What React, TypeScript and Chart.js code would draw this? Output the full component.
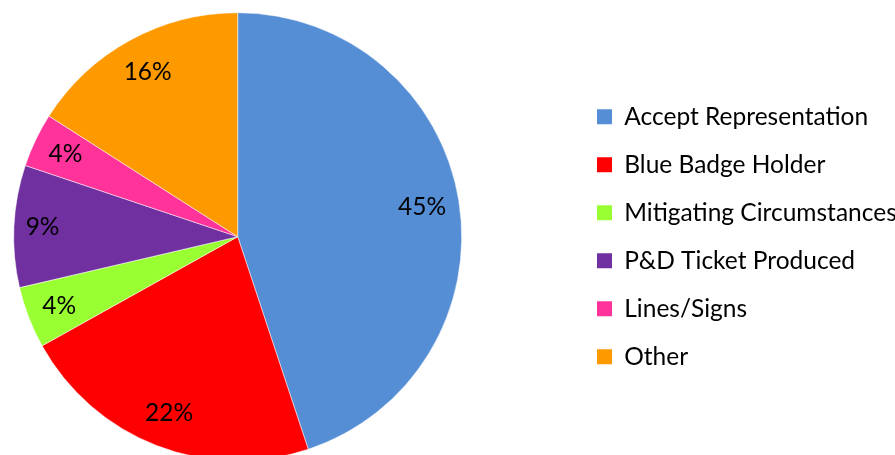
import { useEffect, useRef } from "react";
import { Chart, registerables } from "chart.js";

Chart.register(...registerables);

const categories = [
  "Accept Representation",
  "Blue Badge Holder",
  "Mitigating Circumstances",
  "P&D Ticket Produced",
  "Lines/Signs",
  "Other",
];
const values = [44.9, 22.0, 4.45, 8.8, 3.9, 15.95];
const colors = ["#558ED5", "#FF0000", "#99FF33", "#7030A0", "#FF3399", "#FF9900"];

const SHIFT = 100;
const W = 960 + SHIFT;
const H = 470;
const FONT = "Lato";
const FS = 24.5;
const CX = 237.7 + SHIFT;
const CY = 236.7;
const RADIUS = 224;
const LEG_PAD = 48 - FS;
const BOX = 15;
const BOX_LEFT = 597 + SHIFT;

const labelPlugin = {
  id: "pctLabels",
  afterDatasetsDraw(chart: any) {
    const ctx = chart.ctx as CanvasRenderingContext2D;
    const meta = chart.getDatasetMeta(0);
    const data = chart.data.datasets[0].data as number[];
    const total = data.reduce((a, b) => a + b, 0);
    ctx.save();
    ctx.font = `${FS}px ${FONT}`;
    ctx.fillStyle = "#000";
    ctx.textAlign = "center";
    ctx.textBaseline = "middle";
    meta.data.forEach((arc: any, i: number) => {
      const p = arc.getProps(["x", "y", "startAngle", "endAngle", "outerRadius"], true);
      const mid = (p.startAngle + p.endAngle) / 2;
      const text = Math.round((data[i] / total) * 100) + "%";
      const w = ctx.measureText(text).width;
      const ext = Math.abs(Math.cos(mid)) * w / 2 + Math.abs(Math.sin(mid)) * 16;
      const r = p.outerRadius - 11 - ext;
      ctx.fillText(text, p.x + Math.cos(mid) * r, p.y + Math.sin(mid) * r);
    });
    ctx.restore();
  },
};

export default function App() {
  const ref = useRef<HTMLCanvasElement | null>(null);

  useEffect(() => {
    document.body.style.margin = "0";
    document.body.style.overflow = "hidden";
    document.documentElement.style.overflow = "hidden";
    const canvas = ref.current;
    if (!canvas) return;

    const mctx = document.createElement("canvas").getContext("2d")!;
    mctx.font = `${FS}px ${FONT}`;
    const maxText = Math.max(...categories.map((c) => mctx.measureText(c).width));
    const legendWidth = LEG_PAD + BOX + FS / 2 + maxText + 10;
    const legendLeft = BOX_LEFT - LEG_PAD;
    const padLeft = 2 * CX - legendLeft;
    const padRight = W - legendLeft - legendWidth;
    const padTop = 12;
    const padBottom = H - (2 * CY - padTop);

    const chart = new Chart(canvas, {
      type: "pie",
      data: {
        labels: categories,
        datasets: [
          {
            data: values,
            backgroundColor: colors,
            borderColor: "#ffffff",
            borderWidth: 0.5,
            hoverOffset: 0,
            clip: false as any,
          },
        ],
      },
      options: {
        responsive: false,
        animation: false,
        events: [],
        radius: RADIUS,
        layout: {
          padding: { left: padLeft, right: padRight, top: padTop, bottom: padBottom },
        },
        plugins: {
          tooltip: { enabled: false },
          legend: {
            position: "right",
            align: "center",
            labels: {
              font: { family: FONT, size: FS },
              color: "#000",
              boxWidth: BOX,
              boxHeight: BOX,
              padding: LEG_PAD,
              generateLabels: (ch: any) => {
                const items = (Chart as any).overrides.pie.plugins.legend.labels.generateLabels(ch);
                return items.map((it: any) => ({ ...it, lineWidth: 0 }));
              },
            },
          },
        },
      } as any,
      plugins: [labelPlugin],
    });
    return () => chart.destroy();
  }, []);

  return (
    <div style={{ width: W - SHIFT, height: H }}>
      <canvas
        ref={ref}
        width={W}
        height={H}
        style={{ display: "block", marginLeft: -SHIFT }}
      />
    </div>
  );
}
